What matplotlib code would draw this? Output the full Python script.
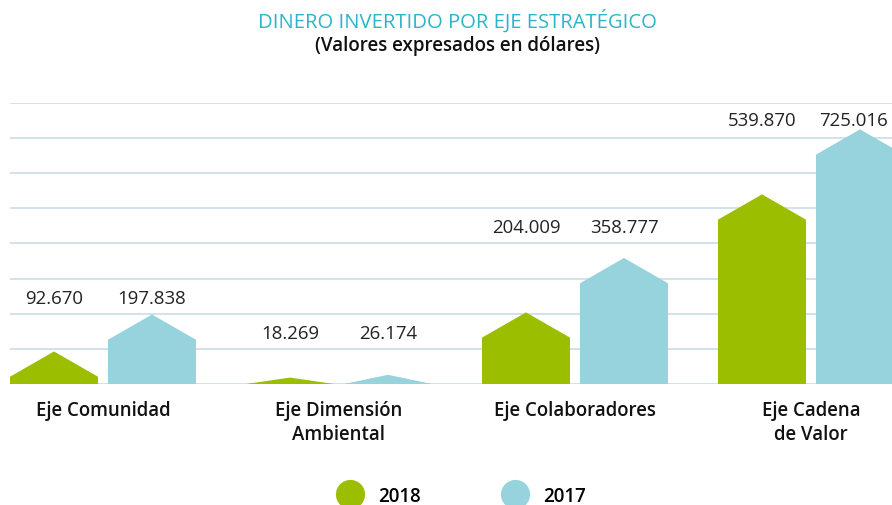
import numpy as np
import matplotlib.pyplot as plt
from matplotlib.patches import Polygon
from matplotlib.lines import Line2D

# ---- data -------------------------------------------------------------------
categories = ["Eje Comunidad", "Eje Dimensión\nAmbiental",
              "Eje Colaboradores", "Eje Cadena\nde Valor"]
years      = ["2018", "2017"]
vals_2018  = [92670, 18269, 204009, 539870]
vals_2017  = [197838, 26174, 358777, 725016]

# ---- style ------------------------------------------------------------------
GREEN, BLUE = "#9bbf00", "#96d3dd"
TEAL        = "#2ab5c8"
GRID        = "#c9dde6"
BAR_W       = 0.373
OFFSET      = 0.2076
ROOF        = 72000          # height of the triangular roof
LABEL_Y     = [246000, 146000, 447000, 751000]   # where value labels sit

plt.rcParams["font.family"] = ["Open Sans", "DejaVu Sans"]

fig = plt.figure(figsize=(8.92, 5.06), dpi=100)
ax = fig.add_axes([10 / 892, 121 / 506, 1 - 10 / 892, 281 / 506])
XMAX = (892 - 103) / 236


def house(ax, cx, v, color):
    r = min(ROOF, v)
    sh = v - r
    l, rt = cx - BAR_W / 2, cx + BAR_W / 2
    pts = [(l, 0), (rt, 0), (rt, sh), (cx, v), (l, sh)]
    ax.add_patch(Polygon(pts, closed=True, facecolor=color,
                         edgecolor="none", zorder=3))


for y in np.arange(0, 800001, 100000):
    ax.axhline(y, color=GRID, lw=1.2, zorder=1)

x = np.arange(len(categories))
for i in x:
    for v, col, off in ((vals_2018[i], GREEN, -OFFSET),
                        (vals_2017[i], BLUE, OFFSET)):
        house(ax, i + off, v, col)
        lx, ha = i + off, "center"
        if lx + 0.14 > XMAX:          # keep the last label inside the figure
            lx, ha = XMAX - 4 / 236, "right"
        ax.text(lx, LABEL_Y[i], f"{v:,}".replace(",", "."),
                ha=ha, va="center", fontsize=13.4, color="#222222")
    ax.text(i, -45000, categories[i], ha="center", va="top",
            fontsize=13.4, fontweight="semibold", color="#111111",
            linespacing=1.3)

ax.set_xlim(-93 / 236, XMAX)
ax.set_ylim(0, 800000)
ax.axis("off")

fig.text(0.513, 0.958, "DINERO INVERTIDO POR EJE ESTRATÉGICO",
         ha="center", va="center", fontsize=14.6, color=TEAL,
         fontweight="medium")
fig.text(0.513, 0.909, "(Valores expresados en dólares)",
         ha="center", va="center", fontsize=13.5, fontweight="semibold",
         color="#111111")

handles = [Line2D([], [], marker="o", ls="none", markersize=21,
                  markerfacecolor=c, markeredgecolor="none")
           for c in (GREEN, BLUE)]
leg = fig.legend(handles, years, loc="center", ncol=2,
                 bbox_to_anchor=(0.514, 0.018), frameon=False,
                 columnspacing=4.0, handletextpad=0.5,
                 prop={"size": 13.5, "weight": "semibold"})

fig.savefig("out.png", dpi=100)
